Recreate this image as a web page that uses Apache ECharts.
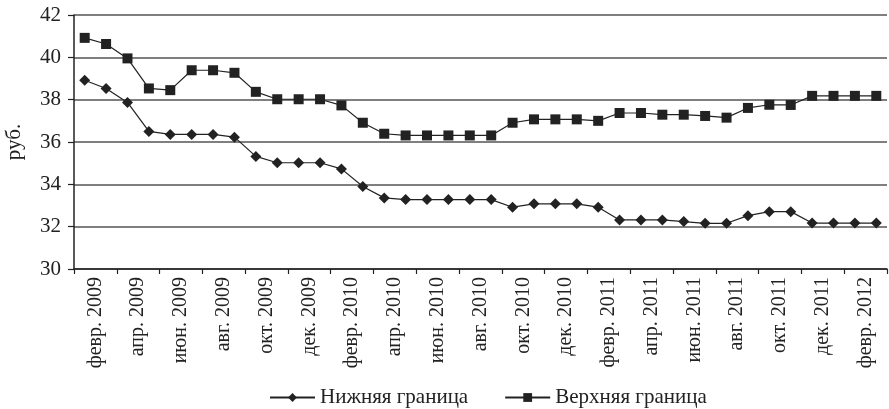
<!DOCTYPE html>
<html>
<head>
<meta charset="utf-8">
<script src="https://cdn.jsdelivr.net/npm/echarts@6/dist/echarts.min.js"></script>
<style>
  html, body { margin: 0; padding: 0; background: #fff; }
  #chart { width: 889px; height: 409px; }
</style>
</head>
<body>
<div id="chart"></div>
<script>
// monthly points, Feb 2009 .. Mar 2012
const months = [
  'февр. 2009', 'март 2009', 'апр. 2009', 'май 2009', 'июн. 2009', 'июл. 2009',
  'авг. 2009', 'сент. 2009', 'окт. 2009', 'нояб. 2009', 'дек. 2009', 'янв. 2010',
  'февр. 2010', 'март 2010', 'апр. 2010', 'май 2010', 'июн. 2010', 'июл. 2010',
  'авг. 2010', 'сент. 2010', 'окт. 2010', 'нояб. 2010', 'дек. 2010', 'янв. 2011',
  'февр. 2011', 'март 2011', 'апр. 2011', 'май 2011', 'июн. 2011', 'июл. 2011',
  'авг. 2011', 'сент. 2011', 'окт. 2011', 'нояб. 2011', 'дек. 2011', 'янв. 2012',
  'февр. 2012', 'март 2012',
];

// one label per two months
const tickLabels = [
  'февр. 2009', 'апр. 2009', 'июн. 2009', 'авг. 2009', 'окт. 2009', 'дек. 2009',
  'февр. 2010', 'апр. 2010', 'июн. 2010', 'авг. 2010', 'окт. 2010', 'дек. 2010',
  'февр. 2011', 'апр. 2011', 'июн. 2011', 'авг. 2011', 'окт. 2011', 'дек. 2011',
  'февр. 2012',
];

const lower = [
  38.92, 38.53, 37.87, 36.5, 36.36, 36.36, 36.36, 36.23, 35.32, 35.02,
  35.02, 35.02, 34.73, 33.9, 33.36, 33.28, 33.28, 33.28, 33.28, 33.28,
  32.92, 33.08, 33.08, 33.08, 32.92, 32.32, 32.32, 32.32, 32.24, 32.16,
  32.16, 32.52, 32.71, 32.71, 32.17, 32.17, 32.17, 32.17,
];

const upper = [
  40.92, 40.63, 39.95, 38.53, 38.45, 39.39, 39.39, 39.27, 38.37, 38.02,
  38.02, 38.02, 37.73, 36.91, 36.39, 36.31, 36.31, 36.31, 36.31, 36.31,
  36.91, 37.07, 37.07, 37.07, 37.0, 37.37, 37.37, 37.29, 37.29, 37.23,
  37.15, 37.61, 37.76, 37.75, 38.18, 38.18, 38.18, 38.18,
];

const font = 'Liberation Serif';
const ink = '#222';

const chart = echarts.init(document.getElementById('chart'));

chart.setOption({
  animation: false,
  textStyle: { fontFamily: font, color: ink },
  grid: { left: 74, right: 2, top: 15, bottom: 140, outerBoundsMode: 'none', containLabel: false },
  legend: {
    left: 264,
    top: 382,
    itemWidth: 45,
    itemHeight: 11,
    itemGap: 36,
    textStyle: { fontFamily: font, fontSize: 21, color: ink },
    data: ['Нижняя граница', 'Верхняя граница'],
  },
  xAxis: [
    {
      type: 'category',
      data: months,
      boundaryGap: true,
      axisLine: { lineStyle: { color: ink, width: 1.5 } },
      axisTick: { show: false },
      axisLabel: { show: false },
    },
    {
      type: 'category',
      position: 'bottom',
      data: tickLabels,
      boundaryGap: true,
      axisLine: { show: false },
      axisTick: { show: true, length: 5, lineStyle: { color: ink, width: 1.2 } },
      axisLabel: {
        rotate: 90,
        margin: 8,
        fontFamily: font,
        fontSize: 20,
        color: ink,
      },
    },
  ],
  yAxis: {
    type: 'value',
    min: 30,
    max: 42,
    interval: 2,
    name: 'руб.',
    nameLocation: 'middle',
    nameGap: 49,
    nameTextStyle: { fontFamily: font, fontSize: 21, color: ink },
    axisLine: { show: true, lineStyle: { color: ink, width: 1.5 } },
    axisTick: { show: true, length: 6, lineStyle: { color: ink, width: 1.2 } },
    axisLabel: { margin: 13, fontFamily: font, fontSize: 21, color: ink },
    splitLine: { lineStyle: { color: '#555', width: 1.5 } },
  },
  series: [
    {
      name: 'Нижняя граница',
      type: 'line',
      xAxisIndex: 0,
      data: lower,
      symbol: 'diamond',
      symbolSize: 11,
      showAllSymbol: true,
      itemStyle: { color: ink },
      lineStyle: { color: ink, width: 1.2 },
    },
    {
      name: 'Верхняя граница',
      type: 'line',
      xAxisIndex: 0,
      data: upper,
      symbol: 'rect',
      symbolSize: 10,
      showAllSymbol: true,
      itemStyle: { color: ink },
      lineStyle: { color: ink, width: 1.2 },
    },
  ],
});
</script>
</body>
</html>
